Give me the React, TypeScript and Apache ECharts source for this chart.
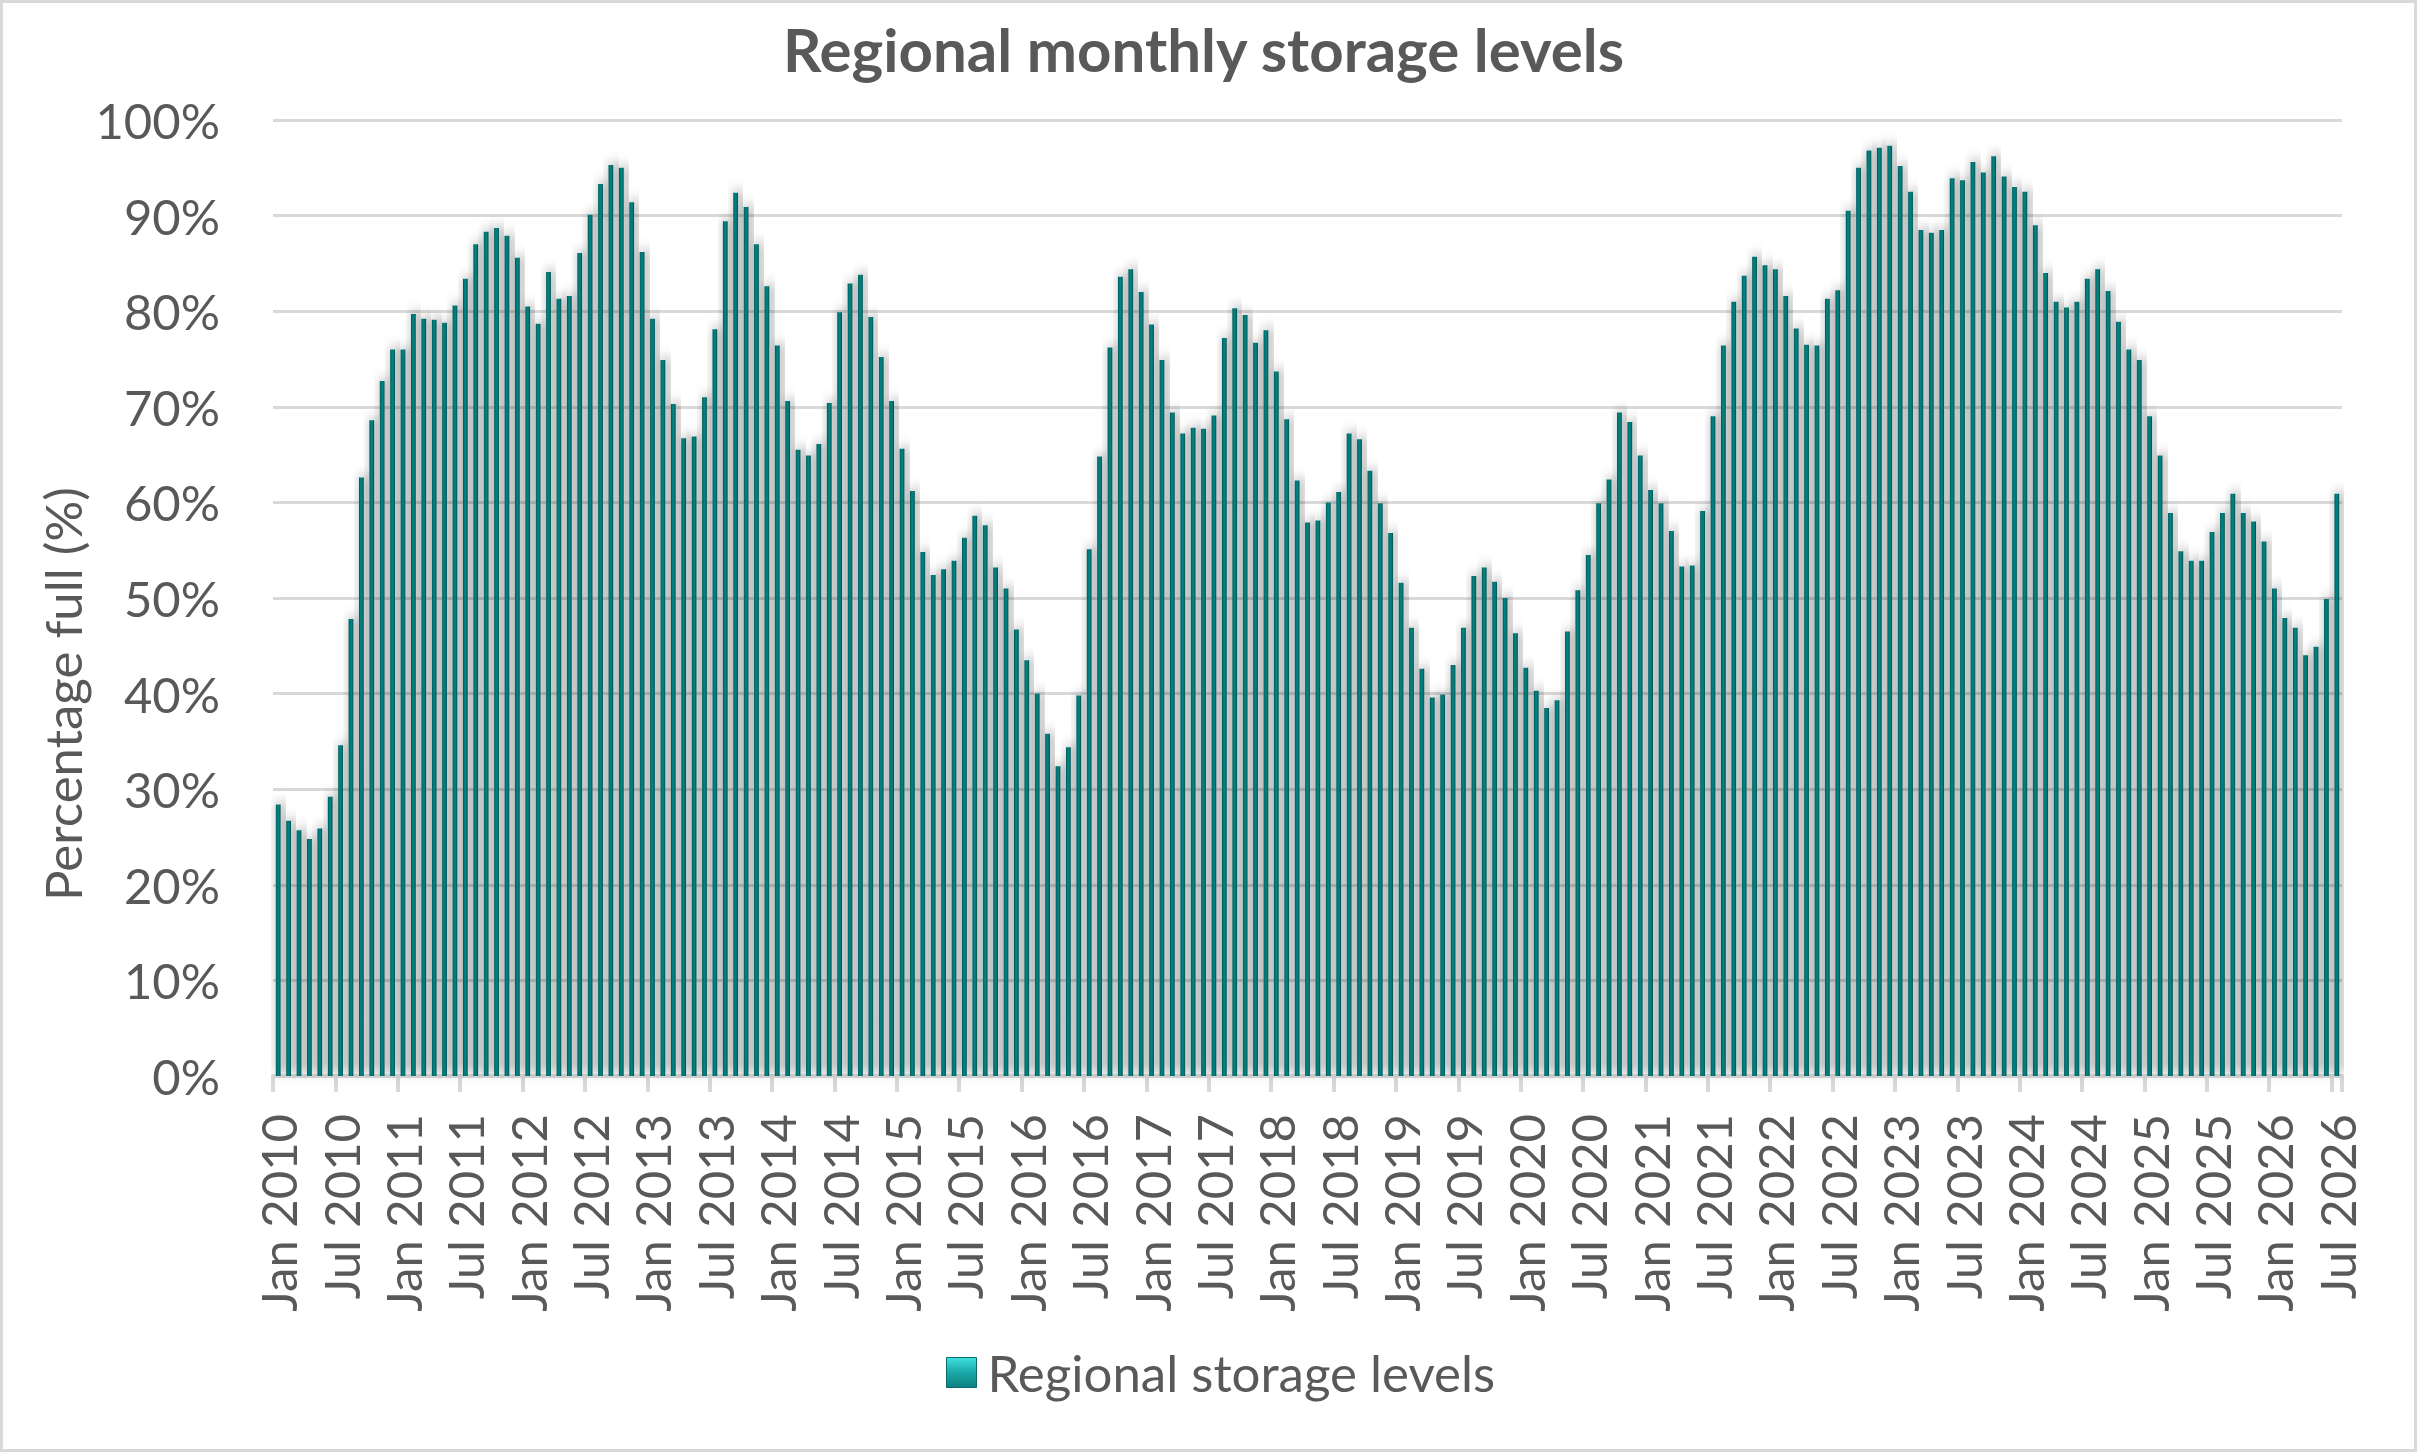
import React, { useEffect, useRef } from "react";
import * as echarts from "echarts";

// ---- Data (percentage full) ----
const MONTHS = ["Jan", "Feb", "Mar", "Apr", "May", "Jun", "Jul", "Aug", "Sep", "Oct", "Nov", "Dec"];
const YEARS = [2010, 2011, 2012, 2013, 2014, 2015, 2016, 2017, 2018, 2019, 2020, 2021, 2022, 2023, 2024, 2025, 2026];

const storage2010 = [28.4, 26.7, 25.7, 24.8, 25.9, 29.2, 34.6, 47.8, 62.6, 68.6, 72.7, 76.0];
const storage2011 = [76.0, 79.7, 79.2, 79.1, 78.8, 80.6, 83.4, 87.0, 88.3, 88.7, 87.9, 85.6];
const storage2012 = [80.5, 78.7, 84.1, 81.3, 81.6, 86.1, 90.1, 93.3, 95.3, 95.0, 91.4, 86.2];
const storage2013 = [79.2, 74.9, 70.3, 66.7, 66.9, 71.0, 78.1, 89.4, 92.4, 90.9, 87.0, 82.6];
const storage2014 = [76.4, 70.6, 65.5, 64.9, 66.1, 70.4, 79.9, 82.9, 83.8, 79.4, 75.2, 70.6];
const storage2015 = [65.6, 61.2, 54.8, 52.4, 53.0, 53.9, 56.3, 58.6, 57.6, 53.2, 51.0, 46.7];
const storage2016 = [43.5, 40.0, 35.8, 32.4, 34.4, 39.8, 55.1, 64.8, 76.2, 83.6, 84.4, 82.0];
const storage2017 = [78.6, 74.9, 69.4, 67.2, 67.8, 67.7, 69.1, 77.2, 80.3, 79.6, 76.7, 78.0];
const storage2018 = [73.7, 68.7, 62.3, 57.9, 58.1, 60.0, 61.1, 67.2, 66.6, 63.3, 59.9, 56.8];
const storage2019 = [51.6, 46.9, 42.6, 39.6, 39.9, 43.0, 46.9, 52.3, 53.2, 51.7, 50.0, 46.3];
const storage2020 = [42.7, 40.3, 38.5, 39.3, 46.5, 50.8, 54.5, 59.9, 62.4, 69.4, 68.4, 64.9];
const storage2021 = [61.3, 59.9, 57.0, 53.3, 53.4, 59.1, 69.0, 76.4, 81.0, 83.7, 85.7, 84.8];
const storage2022 = [84.4, 81.6, 78.2, 76.5, 76.4, 81.3, 82.2, 90.5, 95.0, 96.8, 97.1, 97.3];
const storage2023 = [95.2, 92.5, 88.5, 88.2, 88.5, 93.9, 93.7, 95.6, 94.5, 96.2, 94.1, 93.0];
const storage2024 = [92.5, 89.0, 84.0, 81.0, 80.4, 81.0, 83.4, 84.4, 82.1, 78.9, 76.0, 74.9];
const storage2025 = [69.0, 64.9, 58.9, 54.9, 53.9, 53.9, 56.9, 58.9, 60.9, 58.9, 58.0, 55.9];
const storage2026 = [51.0, 47.9, 46.9, 44.0, 44.9, 49.9, 60.9];

const SERIES_NAME = "Regional storage levels";
const TITLE = "Regional monthly storage levels";
const Y_NAME = "Percentage full (%)";

const values: number[] = [
  ...storage2010, ...storage2011, ...storage2012, ...storage2013, ...storage2014,
  ...storage2015, ...storage2016, ...storage2017, ...storage2018, ...storage2019,
  ...storage2020, ...storage2021, ...storage2022, ...storage2023, ...storage2024,
  ...storage2025, ...storage2026,
];

const categories: string[] = [];
YEARS.forEach((y) => MONTHS.forEach((m) => categories.push(`${m} ${y}`)));
const cats = categories.slice(0, values.length);

const FONT = "Lato";
const TEXT = "#595959";
const GRID_COLOR = "#d9d9d9";

export default function App() {
  const ref = useRef<HTMLDivElement>(null);

  useEffect(() => {
    if (!ref.current) return;
    const chart = echarts.init(ref.current, undefined, { renderer: "svg" });
    const barColor = new echarts.graphic.LinearGradient(0, 0, 1, 0, [
      { offset: 0, color: "#005656" },
      { offset: 0.3, color: "#007a79" },
      { offset: 0.55, color: "#008583" },
      { offset: 0.8, color: "#006b6a" },
      { offset: 1, color: "#004848" },
    ]);
    chart.setOption({
      animation: false,
      backgroundColor: "#ffffff",
      title: {
        text: TITLE,
        left: 778,
        top: 14,
        textStyle: { fontFamily: FONT, fontWeight: "bold", fontSize: 60, color: TEXT },
      },
      legend: {
        data: [SERIES_NAME],
        left: 941,
        top: 1342,
        icon: "rect",
        itemWidth: 30,
        itemHeight: 30,
        itemGap: 10,
        textStyle: { fontFamily: FONT, fontSize: 51, color: TEXT, padding: [0, 0, 0, 6] },
        itemStyle: {
          color: new echarts.graphic.LinearGradient(0, 0, 0, 1, [
            { offset: 0, color: "#3ee0e0" },
            { offset: 0.5, color: "#1aa8a8" },
            { offset: 1, color: "#0e7f80" },
          ]),
          borderColor: "#0b6a6a",
          borderWidth: 1,
          shadowBlur: 0,
          shadowColor: "transparent",
        },
      },
      grid: { left: 273, right: 75, top: 120, bottom: 376, containLabel: false },
      xAxis: {
        type: "category",
        data: cats,
        boundaryGap: true,
        axisLine: { lineStyle: { color: GRID_COLOR, width: 4 } },
        axisTick: { show: true, interval: 5, length: 16, alignWithLabel: false, lineStyle: { color: GRID_COLOR, width: 4 } },
        axisLabel: { interval: 5, rotate: 90, margin: 38, fontFamily: FONT, fontSize: 49, color: TEXT },
      },
      yAxis: {
        type: "value",
        min: 0,
        max: 100,
        interval: 10,
        axisLine: { show: false },
        axisTick: { show: false },
        axisLabel: { formatter: "{value}%", margin: 53, fontFamily: FONT, fontSize: 49, color: TEXT },
        splitLine: { lineStyle: { color: GRID_COLOR, width: 3 } },
      },
      series: [
        {
          type: "bar",
          name: SERIES_NAME,
          data: values,
          barWidth: "46%",
          itemStyle: {
            color: barColor,
            shadowBlur: 12,
            shadowColor: "rgba(0,0,0,0.55)",
            shadowOffsetX: 3,
            shadowOffsetY: -3,
          },
        },
      ],
      graphic: [
        {
          type: "text",
          x: 62,
          y: 694,
          rotation: Math.PI / 2,
          style: {
            text: Y_NAME,
            fontFamily: FONT,
            fontSize: 51,
            fill: TEXT,
            align: "center",
            verticalAlign: "middle",
          },
          silent: true,
        },
        {
          type: "rect",
          shape: { x: 1.5, y: 1.5, width: 2414, height: 1449 },
          style: { fill: "none", stroke: GRID_COLOR, lineWidth: 3 },
          silent: true,
        },
      ],
    });
    return () => chart.dispose();
  }, []);

  return (
    <div
      ref={ref}
      style={{ position: "fixed", left: 0, top: 0, width: 2417, height: 1452, background: "#fff" }}
    />
  );
}
